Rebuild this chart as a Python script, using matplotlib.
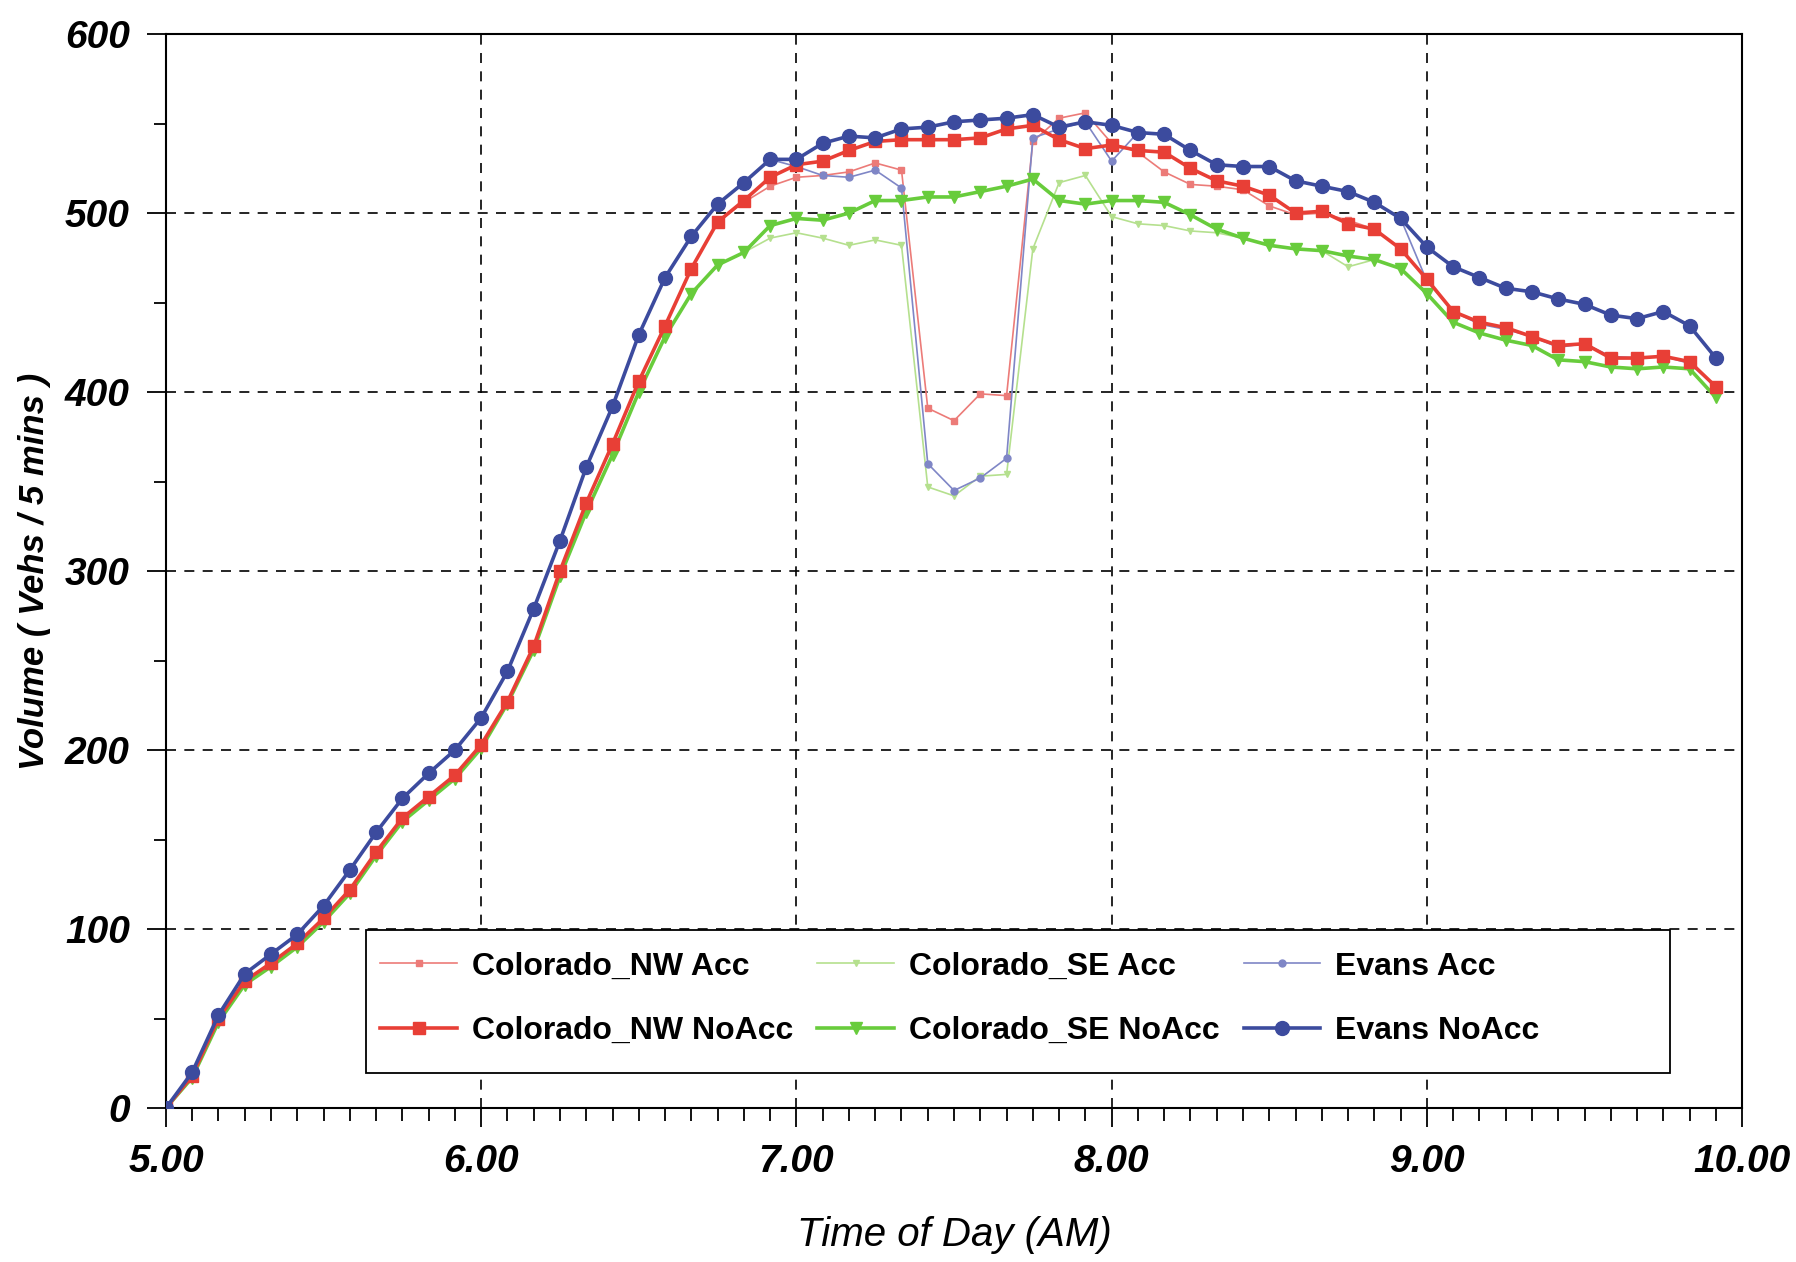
import numpy as np
import matplotlib.pyplot as plt
from matplotlib.patches import Rectangle
from matplotlib.ticker import MultipleLocator, FormatStrFormatter

# 5-minute intervals from 5:00 to 9:55 AM
time_of_day = 5 + np.arange(60) / 12.0

colorado_nw_noacc = [0, 18, 50, 71, 81, 92, 106, 122, 143, 162, 174, 186, 203, 227, 258,
                     300, 338, 371, 406, 437, 469, 495, 507, 520, 527, 529, 535, 540, 541, 541,
                     541, 542, 547, 549, 541, 536, 538, 535, 534, 525, 518, 515, 510, 500, 501,
                     494, 491, 480, 463, 445, 439, 436, 431, 426, 427, 419, 419, 420, 417, 403]
colorado_nw_acc = [0, 18, 50, 71, 81, 92, 106, 122, 143, 162, 174, 186, 203, 227, 258,
                   300, 338, 371, 406, 437, 469, 495, 506, 515, 520, 521, 523, 528, 524, 391,
                   384, 399, 398, 540, 553, 556, 539, 534, 523, 516, 515, 513, 504, 499, 500,
                   496, 491, 480, 463, 445, 439, 436, 431, 426, 427, 419, 419, 420, 417, 403]
colorado_se_noacc = [0, 17, 48, 69, 79, 90, 104, 120, 141, 160, 172, 184, 201, 226, 256,
                     297, 333, 365, 400, 431, 455, 471, 478, 493, 497, 496, 500, 507, 507, 509,
                     509, 512, 515, 519, 507, 505, 507, 507, 506, 499, 491, 486, 482, 480, 479,
                     476, 474, 469, 455, 439, 433, 429, 426, 418, 417, 414, 413, 414, 413, 397]
colorado_se_acc = [0, 17, 48, 69, 79, 90, 104, 120, 141, 160, 172, 184, 201, 226, 256,
                   297, 333, 365, 400, 431, 455, 471, 478, 486, 489, 486, 482, 485, 482, 347,
                   342, 353, 354, 480, 517, 521, 498, 494, 493, 490, 489, 486, 482, 480, 479,
                   470, 474, 469, 455, 439, 433, 429, 426, 418, 417, 414, 413, 414, 413, 397]
evans_noacc = [0, 20, 52, 75, 86, 97, 113, 133, 154, 173, 187, 200, 218, 244, 279,
               317, 358, 392, 432, 464, 487, 505, 517, 530, 530, 539, 543, 542, 547, 548,
               551, 552, 553, 555, 548, 551, 549, 545, 544, 535, 527, 526, 526, 518, 515,
               512, 506, 497, 481, 470, 464, 458, 456, 452, 449, 443, 441, 445, 437, 419]
evans_acc = [0, 20, 52, 75, 86, 97, 113, 133, 154, 173, 187, 200, 218, 244, 279,
             317, 358, 392, 432, 464, 487, 505, 517, 530, 526, 521, 520, 524, 514, 360,
             345, 352, 363, 542, 547, 551, 529, 545, 544, 535, 527, 526, 526, 518, 515,
             512, 506, 497, 462, 445, 438, 435, 431, 425, 427, 420, 419, 420, 416, 403]

plt.rcParams['font.family'] = ['Liberation Sans', 'DejaVu Sans']

fig = plt.figure(figsize=(17.96, 12.62), dpi=100)
ax = fig.add_axes([0.0924, 0.122, 0.8776, 0.851])

# thin "Acc" runs
ax.plot(time_of_day, colorado_se_acc, color='#b5e08e', lw=1.2, marker='v', ms=5,
        label='Colorado_SE Acc', zorder=3)
ax.plot(time_of_day, colorado_nw_acc, color='#ec7b78', lw=1.2, marker='s', ms=5,
        label='Colorado_NW Acc', zorder=3)
ax.plot(time_of_day, evans_acc, color='#7f86c6', lw=1.2, marker='o', ms=5,
        label='Evans Acc', zorder=3)

# thick "NoAcc" runs
ax.plot(time_of_day, colorado_se_noacc, color='#68cc3c', lw=2.6, marker='v', ms=9,
        label='Colorado_SE NoAcc', zorder=4)
ax.plot(time_of_day, colorado_nw_noacc, color='#e83f36', lw=2.6, marker='s', ms=9,
        label='Colorado_NW NoAcc', zorder=5)
ax.plot(time_of_day, evans_noacc, color='#3c4b9e', lw=2.6, marker='o', ms=10,
        label='Evans NoAcc', zorder=6)

ax.set_xlim(5, 10)
ax.set_ylim(0, 600)
ax.xaxis.set_major_locator(MultipleLocator(1))
ax.xaxis.set_minor_locator(MultipleLocator(1 / 12))
ax.xaxis.set_major_formatter(FormatStrFormatter('%.2f'))
ax.yaxis.set_major_locator(MultipleLocator(100))
ax.yaxis.set_minor_locator(MultipleLocator(50))

ax.tick_params(axis='both', which='major', length=14, width=1.3, labelsize=28, pad=12)
ax.tick_params(axis='both', which='minor', length=9, width=1.3)
for lbl in ax.get_xticklabels() + ax.get_yticklabels():
    lbl.set_fontweight('bold')
    lbl.set_fontstyle('italic')

ax.grid(True, which='major', color='black', linestyle=(0, (6, 5)), lw=1.2)
for sp in ax.spines.values():
    sp.set_linewidth(1.5)

ax.set_xlabel('Time of Day (AM)', fontsize=29, fontstyle='italic', labelpad=26)
ax.set_ylabel('Volume ( Vehs / 5 mins )', fontsize=25, fontweight='bold',
              fontstyle='italic', labelpad=10)

# legend box drawn separately so it can be wider than its entries
box = Rectangle((0.127, 0.033), 0.827, 0.133, transform=ax.transAxes,
                facecolor='white', edgecolor='black', lw=1.3, zorder=9)
ax.add_patch(box)

handles, labels = ax.get_legend_handles_labels()
order = ['Colorado_NW Acc', 'Colorado_NW NoAcc', 'Colorado_SE Acc',
         'Colorado_SE NoAcc', 'Evans Acc', 'Evans NoAcc']
hmap = dict(zip(labels, handles))
leg = ax.legend([hmap[k] for k in order], order, ncol=3, loc='upper left',
                bbox_to_anchor=(0.127, 0.159), prop={'size': 23, 'weight': 'bold'},
                frameon=False, handlelength=2.4, handletextpad=0.47,
                borderaxespad=0, borderpad=0.45, labelspacing=1.08, columnspacing=0.75)
leg.set_zorder(10)

fig.savefig('out.png', dpi=100)
